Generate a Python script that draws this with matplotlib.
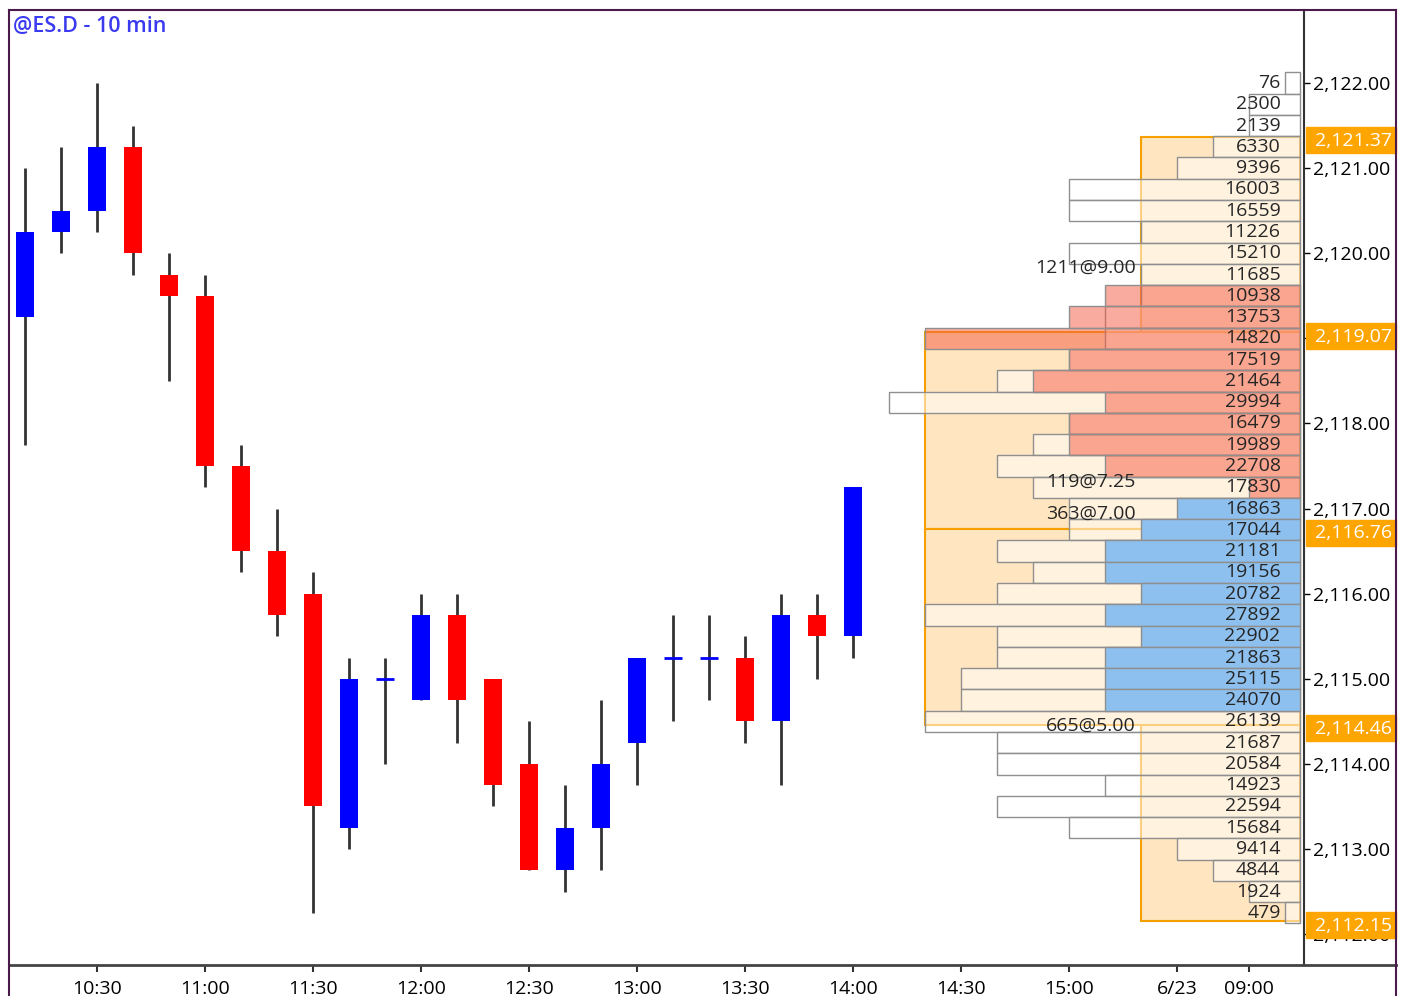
import numpy as np
import matplotlib.pyplot as plt
import matplotlib.transforms as mtransforms
from matplotlib.lines import Line2D
from matplotlib.patches import Rectangle
from matplotlib.ticker import FuncFormatter

plt.rcParams['font.family'] = ['Open Sans', 'DejaVu Sans']

# 10 min candles, 10:10 .. 14:00
opens = [2119.25, 2120.25, 2120.50, 2121.25, 2119.75, 2119.50, 2117.50, 2116.50,
         2116.00, 2113.25, 2115.00, 2114.75, 2115.75, 2115.00, 2114.00, 2112.75,
         2113.25, 2114.25, 2115.25, 2115.25, 2115.25, 2114.50, 2115.75, 2115.50]
highs = [2121.00, 2121.25, 2122.00, 2121.50, 2120.00, 2119.75, 2117.75, 2117.00,
         2116.25, 2115.25, 2115.25, 2116.00, 2116.00, 2115.00, 2114.50, 2113.75,
         2114.75, 2115.25, 2115.75, 2115.75, 2115.50, 2116.00, 2116.00, 2117.25]
lows = [2117.75, 2120.00, 2120.25, 2119.75, 2118.50, 2117.25, 2116.25, 2115.50,
        2112.25, 2113.00, 2114.00, 2114.75, 2114.25, 2113.50, 2112.75, 2112.50,
        2112.75, 2113.75, 2114.50, 2114.75, 2114.25, 2113.75, 2115.00, 2115.25]
closes = [2120.25, 2120.50, 2121.25, 2120.00, 2119.50, 2117.50, 2116.50, 2115.75,
          2113.50, 2115.00, 2115.00, 2115.75, 2114.75, 2113.75, 2112.75, 2113.25,
          2114.00, 2115.25, 2115.25, 2115.25, 2114.50, 2115.75, 2115.50, 2117.25]

tick_slot = [2, 5, 8, 11, 14, 17, 20, 23, 26, 29, 32, 34]
tick_lbl = ['10:30', '11:00', '11:30', '12:00', '12:30', '13:00', '13:30', '14:00',
            '14:30', '15:00', '6/23', '09:00']

# volume profile rows
prof_price = [2122.00, 2121.75, 2121.50, 2121.25, 2121.00, 2120.75, 2120.50, 2120.25,
              2120.00, 2119.75, 2119.50, 2119.25, 2119.00, 2118.75, 2118.50, 2118.25,
              2118.00, 2117.75, 2117.50, 2117.25, 2117.00, 2116.75, 2116.50, 2116.25,
              2116.00, 2115.75, 2115.50, 2115.25, 2115.00, 2114.75, 2114.50, 2114.25,
              2114.00, 2113.75, 2113.50, 2113.25, 2113.00, 2112.75, 2112.50, 2112.25]
volume = [76, 2300, 2139, 6330, 9396, 16003, 16559, 11226, 15210, 11685,
          10938, 13753, 14820, 17519, 21464, 29994, 16479, 19989, 22708, 17830,
          16863, 17044, 21181, 19156, 20782, 27892, 22902, 21863, 25115, 24070,
          26139, 21687, 20584, 14923, 22594, 15684, 9414, 4844, 1924, 479]
tpo_cnt = [1, 2, 2, 3, 4, 7, 7, 5, 7, 5,
           5, 6, 6, 7, 9, 12, 7, 8, 9, 8,
           7, 7, 9, 8, 9, 11, 9, 9, 10, 10,
           11, 9, 9, 6, 9, 7, 4, 3, 2, 1]
sell_cnt = [0, 0, 0, 0, 0, 0, 0, 0, 0, 0,
            6, 7, 11, 7, 8, 6, 7, 7, 6, 2,
            0, 0, 0, 0, 0, 0, 0, 0, 0, 0,
            0, 0, 0, 0, 0, 0, 0, 0, 0, 0]
buy_cnt = [0, 0, 0, 0, 0, 0, 0, 0, 0, 0,
           0, 0, 0, 0, 0, 0, 0, 0, 0, 0,
           4, 5, 6, 6, 5, 6, 5, 6, 6, 6,
           0, 0, 0, 0, 0, 0, 0, 0, 0, 0]

band_edges = [2121.37, 2119.07, 2116.76, 2114.46, 2112.15]
band_cnt = [5, 11, 11, 5]

notes = ['1211@9.00', '119@7.25', '363@7.00', '665@5.00']
note_price = [2119.83, 2117.31, 2116.94, 2114.45]

W, H = 1408, 996
fig = plt.figure(figsize=(W / 100, H / 100), dpi=100)
ax = fig.add_axes([9 / W, (H - 965) / H, (1304 - 9) / W, (965 - 10) / H])
ax.set_xlim(-0.444, 35.53)
ax.set_ylim(2111.637, 2122.858)

# candles
o = np.array(opens); c = np.array(closes)
x = np.arange(len(o))
ax.vlines(x, lows, highs, color='#333333', lw=2, zorder=6)
body_col = np.where(c >= o, '#0000FF', '#FF0000')
m = c != o
ax.bar(x[m], np.abs(c - o)[m], bottom=np.minimum(o, c)[m], width=0.5,
       color=body_col[m], zorder=7)
ax.hlines(o[~m], x[~m] - 0.25, x[~m] + 0.25, color='#0000FF', lw=2, zorder=7)

# profile
R = 35.42
pp = np.array(prof_price)
edges = np.array(band_edges)
bl = 36 - np.array(band_cnt)
ax.barh(edges[1:], R - bl, left=bl, height=edges[:-1] - edges[1:], align='edge',
        color='#FFE6C0', edgecolor='#F5A000', lw=1.5, zorder=1)

tl = 36 - np.array(tpo_cnt)
ax.barh(pp, R - tl, left=tl, height=0.25, color=(1, 1, 1, 0.5),
        edgecolor='#8f8f8f', lw=1, zorder=2)

sc = np.array(sell_cnt); bc = np.array(buy_cnt)
ms = sc > 0
ax.barh(pp[ms], sc[ms] - 0.58, left=36 - sc[ms], height=0.25,
        color=(0.96, 0.35, 0.25, 0.5), edgecolor='#8f8f8f', lw=1, zorder=3)
mb = bc > 0
ax.barh(pp[mb], bc[mb] - 0.58, left=36 - bc[mb], height=0.25,
        color='#8DC0EE', edgecolor='#8f8f8f', lw=1, zorder=3)

for p, v in zip(prof_price, volume):
    ax.text(34.88, p, str(v), ha='right', va='center', fontsize=14,
            color='#262626', zorder=5)
for t, p in zip(notes, note_price):
    ax.text(30.85, p, t, ha='right', va='center', fontsize=14,
            color='#262626', zorder=5)

# axes styling
for s in ['top', 'left', 'bottom']:
    ax.spines[s].set_visible(False)
ax.spines['right'].set_color('#333333')
ax.spines['right'].set_linewidth(1.5)
ax.yaxis.tick_right()
ax.set_yticks(np.arange(2112, 2123))
# 2,119.00 sits under the 2,119.07 marker, so it stays blank
ax.yaxis.set_major_formatter(FuncFormatter(
    lambda v, _: '' if round(v) == 2119 else f'{v:,.2f}'))
ax.tick_params(axis='y', direction='out', length=4.5, width=1, pad=2,
               labelsize=14, colors='black')
ax.set_xticks(tick_slot, tick_lbl)
ax.tick_params(axis='x', direction='out', length=5, width=1.5, pad=6,
               labelsize=14, color='#333333')

trans = mtransforms.blended_transform_factory(ax.transAxes, ax.transData)
for p in band_edges:
    ax.add_patch(Rectangle((1.0012, p - 0.195), 0.0695, 0.305, transform=trans,
                           color='#FFA500', clip_on=False, zorder=10))
    ax.text(1.0085, p - 0.05, f'{p:,.2f}', transform=trans, color='white',
            fontsize=14, ha='left', va='center', clip_on=False, zorder=11)

# frame
fy = lambda y: 1 - y / H
fig.add_artist(Line2D([9 / W, 1396 / W], [fy(965)] * 2, color='#444444', lw=2))
fig.add_artist(Line2D([9 / W, 1396 / W], [fy(10)] * 2, color='#4B1A4B', lw=1.5))
fig.add_artist(Line2D([9 / W] * 2, [fy(10), 0], color='#4B1A4B', lw=1.5))
fig.add_artist(Line2D([1396 / W] * 2, [fy(10), 0], color='#4B1A4B', lw=1.5))

fig.text(13 / W, fy(27), '@ES.D - 10 min', color='#3A3AF0', fontsize=15.5,
         fontweight='semibold', va='center')

fig.savefig('out.png', dpi=100)
